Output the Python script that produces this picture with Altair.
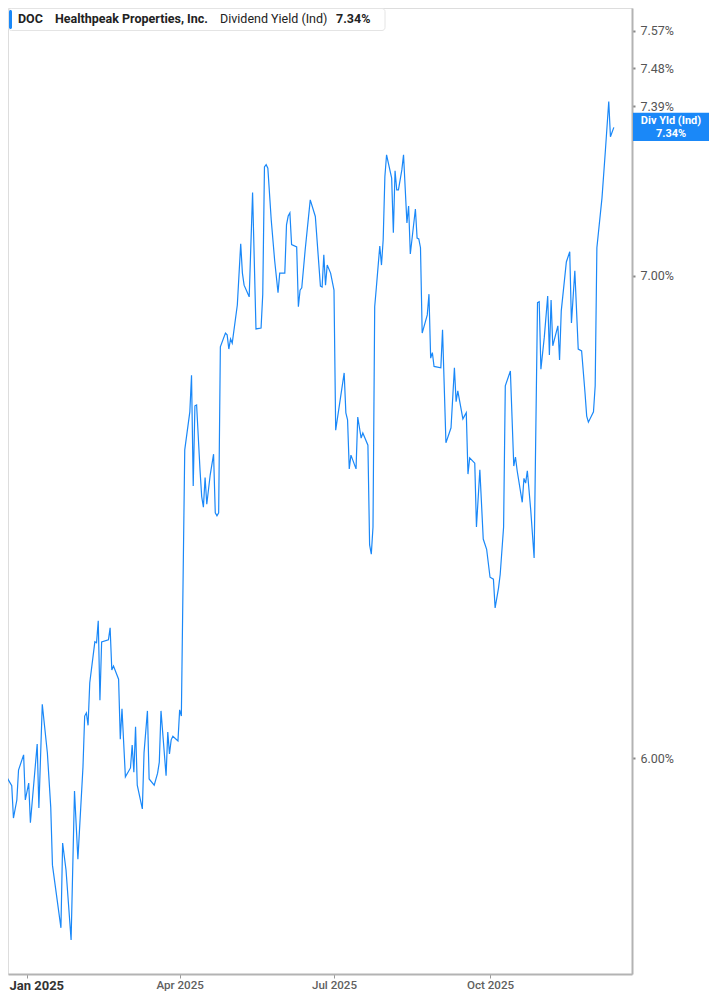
import altair as alt
import pandas as pd

# ---- data ----
dates = [
    "2024-12-16", "2024-12-17", "2024-12-19", "2024-12-20", "2024-12-23", "2024-12-24", "2024-12-26", "2024-12-27", "2024-12-30", "2024-12-31",
    "2025-01-02", "2025-01-03", "2025-01-07", "2025-01-08", "2025-01-10", "2025-01-13", "2025-01-15", "2025-01-16", "2025-01-21", "2025-01-22",
    "2025-01-24", "2025-01-27", "2025-01-29", "2025-01-31", "2025-02-03", "2025-02-04", "2025-02-05", "2025-02-06", "2025-02-07", "2025-02-10",
    "2025-02-11", "2025-02-12", "2025-02-13", "2025-02-14", "2025-02-18", "2025-02-19", "2025-02-20", "2025-02-21", "2025-02-24", "2025-02-25",
    "2025-02-26", "2025-02-28", "2025-03-03", "2025-03-04", "2025-03-05", "2025-03-06", "2025-03-07", "2025-03-10", "2025-03-11", "2025-03-13",
    "2025-03-14", "2025-03-17", "2025-03-19", "2025-03-20", "2025-03-21", "2025-03-24", "2025-03-25", "2025-03-26", "2025-03-27", "2025-03-28",
    "2025-03-31", "2025-04-01", "2025-04-02", "2025-04-04", "2025-04-07", "2025-04-08", "2025-04-09", "2025-04-10", "2025-04-11", "2025-04-13",
    "2025-04-14", "2025-04-15", "2025-04-16", "2025-04-17", "2025-04-19", "2025-04-21", "2025-04-22", "2025-04-23", "2025-04-24", "2025-04-25",
    "2025-04-28", "2025-04-29", "2025-04-30", "2025-05-01", "2025-05-02", "2025-05-05", "2025-05-07", "2025-05-08", "2025-05-09", "2025-05-12",
    "2025-05-14", "2025-05-16", "2025-05-19", "2025-05-20", "2025-05-21", "2025-05-22", "2025-05-23", "2025-05-25", "2025-05-27", "2025-05-29",
    "2025-05-30", "2025-06-02", "2025-06-03", "2025-06-04", "2025-06-05", "2025-06-06", "2025-06-09", "2025-06-10", "2025-06-11", "2025-06-12",
    "2025-06-14", "2025-06-17", "2025-06-20", "2025-06-23", "2025-06-24", "2025-06-25", "2025-06-26", "2025-06-27", "2025-06-29", "2025-07-01",
    "2025-07-02", "2025-07-07", "2025-07-08", "2025-07-09", "2025-07-10", "2025-07-11", "2025-07-14", "2025-07-15", "2025-07-17", "2025-07-18",
    "2025-07-21", "2025-07-22", "2025-07-23", "2025-07-24", "2025-07-25", "2025-07-26", "2025-07-28", "2025-07-29", "2025-07-30", "2025-07-31",
    "2025-08-01", "2025-08-04", "2025-08-05", "2025-08-06", "2025-08-07", "2025-08-08", "2025-08-10", "2025-08-11", "2025-08-13", "2025-08-14",
    "2025-08-15", "2025-08-18", "2025-08-19", "2025-08-20", "2025-08-21", "2025-08-22", "2025-08-25", "2025-08-26", "2025-08-27", "2025-08-28",
    "2025-08-29", "2025-09-02", "2025-09-03", "2025-09-05", "2025-09-08", "2025-09-10", "2025-09-11", "2025-09-12", "2025-09-15", "2025-09-17",
    "2025-09-18", "2025-09-19", "2025-09-22", "2025-09-23", "2025-09-25", "2025-09-27", "2025-09-29", "2025-10-01", "2025-10-03", "2025-10-04",
    "2025-10-06", "2025-10-07", "2025-10-09", "2025-10-10", "2025-10-13", "2025-10-15", "2025-10-16", "2025-10-17", "2025-10-20", "2025-10-21",
    "2025-10-22", "2025-10-23", "2025-10-25", "2025-10-27", "2025-10-29", "2025-10-30", "2025-10-31", "2025-11-02", "2025-11-04", "2025-11-05",
    "2025-11-06", "2025-11-07", "2025-11-10", "2025-11-11", "2025-11-12", "2025-11-15", "2025-11-17", "2025-11-18", "2025-11-20", "2025-11-22",
    "2025-11-24", "2025-11-26", "2025-11-27", "2025-11-28", "2025-12-01", "2025-12-02", "2025-12-03", "2025-12-06", "2025-12-08", "2025-12-10",
    "2025-12-11", "2025-12-13",
]

dividend_yield = [
    5.795, 5.749, 6.073, 5.964, 5.947, 5.886, 5.920, 5.977, 6.006, 5.920,
    5.952, 5.877, 6.027, 5.905, 6.104, 6.010, 5.906, 5.798, 5.683, 5.839,
    5.789, 5.661, 5.937, 5.809, 5.983, 6.081, 6.087, 6.063, 6.146, 6.227,
    6.225, 6.269, 6.112, 6.227, 6.231, 6.255, 6.171, 6.179, 6.153, 6.036,
    6.095, 5.964, 5.981, 6.025, 5.973, 6.060, 5.948, 5.903, 6.010, 6.091,
    5.960, 5.948, 5.971, 5.992, 6.091, 5.966, 6.050, 6.008, 6.035, 6.042,
    6.033, 6.093, 6.081, 6.621, 6.702, 6.781, 6.545, 6.715, 6.717, 6.579,
    6.523, 6.501, 6.563, 6.507, 6.568, 6.612, 6.489, 6.483, 6.489, 6.843,
    6.873, 6.869, 6.838, 6.860, 6.851, 6.935, 7.072, 7.006, 6.979, 6.953,
    7.189, 6.882, 6.884, 6.959, 7.248, 7.253, 7.245, 7.126, 7.035, 6.962,
    7.006, 7.006, 7.115, 7.135, 7.142, 7.070, 7.065, 6.931, 6.968, 6.973,
    7.058, 7.172, 7.134, 6.977, 6.975, 7.047, 6.979, 7.024, 7.006, 6.968,
    6.663, 6.786, 6.700, 6.685, 6.581, 6.610, 6.581, 6.691, 6.646, 6.657,
    6.631, 6.423, 6.404, 6.460, 6.931, 6.975, 7.067, 7.024, 7.081, 7.225,
    7.276, 7.222, 7.097, 7.239, 7.195, 7.195, 7.241, 7.276, 7.119, 7.158,
    7.049, 7.151, 7.085, 7.083, 7.063, 6.873, 6.913, 6.959, 6.818, 6.830,
    6.800, 6.797, 6.880, 6.636, 6.668, 6.797, 6.724, 6.747, 6.687, 6.700,
    6.570, 6.604, 6.593, 6.460, 6.579, 6.435, 6.414, 6.357, 6.353, 6.295,
    6.335, 6.363, 6.460, 6.758, 6.790, 6.587, 6.606, 6.577, 6.511, 6.561,
    6.551, 6.577, 6.495, 6.396, 6.940, 6.942, 6.794, 6.864, 6.955, 6.825,
    6.946, 6.845, 6.889, 6.814, 6.922, 7.031, 7.054, 6.895, 7.011, 6.838,
    6.834, 6.743, 6.693, 6.680, 6.702, 6.758, 7.063, 7.176, 7.285, 7.401,
    7.318, 7.34,
]

y_tick_values = [6.00, 7.00, 7.39, 7.48, 7.57]
x_tick_months = [1, 4, 7, 10]

legend_ticker = ["DOC"]
legend_company = ["Healthpeak Properties, Inc."]
legend_metric = ["Dividend Yield (Ind)"]
legend_last = ["7.34%"]
tag_title = ["Div Yld (Ind)"]
tag_value = ["7.34%"]

# ---- styling ----
BLUE = "#1a88f8"
FONT = "Roboto"
W, H = 624, 966
RIGHT_PAD = 77

df = pd.DataFrame({"date": pd.to_datetime(dates), "value": dividend_yield})

x_scale = alt.Scale(
    domain=[
        alt.DateTime(year=2024, month=12, date=20, hours=19),
        alt.DateTime(year=2025, month=12, date=23, hours=17),
    ],
    nice=False,
)
y_scale = alt.Scale(type="log", domain=[5.5997, 7.6256], nice=False)

is_jan = "month(datum.value) == 0"
x_axis = alt.Axis(
    values=[alt.DateTime(year=2025, month=m, date=1) for m in x_tick_months],
    labelExpr="timeFormat(datum.value, '%b %Y')",
    title=None,
    grid=False,
    domainColor="#b3b3b3",
    domainWidth=2,
    tickColor="#999999",
    tickSize=4,
    tickWidth=1,
    labelFont=FONT,
    labelPadding=1.5,
    labelFlush=25,
    labelFlushOffset=18,
    labelFontWeight={"condition": {"test": is_jan, "value": "bold"}, "value": 500},
    labelFontSize={"condition": {"test": is_jan, "value": 13}, "value": 11.6},
    labelColor={"condition": {"test": is_jan, "value": "#333333"}, "value": "#606060"},
)

y_axis = alt.Axis(
    orient="right",
    values=y_tick_values,
    labelExpr="format(datum.value, '.2f') + '%'",
    title=None,
    grid=False,
    domainColor="#b3b3b3",
    domainWidth=2,
    tickColor="#888888",
    tickSize=3,
    tickWidth=2,
    labelColor="#555555",
    labelFont=FONT,
    labelFontSize=12.5,
    labelPadding=5,
    labelBaseline="middle",
)

line = alt.Chart(df).mark_line(color=BLUE, strokeWidth=1.2, clip=True).encode(
    x=alt.X("date:T", scale=x_scale, axis=x_axis),
    y=alt.Y("value:Q", scale=y_scale, axis=y_axis),
)


def one(texts):
    return alt.Chart(pd.DataFrame({"t": texts}))


# value tag on the right axis
TAG_X = W + 1 + (RIGHT_PAD - 1) / 2
tag_box = one(tag_value).mark_rect(color=BLUE).encode(
    x=alt.value(W + 1), x2=alt.value(W + RIGHT_PAD), y=alt.value(104.7), y2=alt.value(133)
)
tag_t1 = one(tag_title).mark_text(
    font=FONT, fontSize=11, fontWeight="bold", color="white", align="center", baseline="middle"
).encode(x=alt.value(TAG_X), y=alt.value(112.8), text="t:N")
tag_t2 = one(tag_value).mark_text(
    font=FONT, fontSize=11, fontWeight="bold", color="white", align="center", baseline="middle"
).encode(x=alt.value(TAG_X), y=alt.value(125.6), text="t:N")

# legend box at top-left
leg_box = one(legend_ticker).mark_rect(
    fill="white", stroke="#e4e4e4", strokeWidth=1, cornerRadius=3
).encode(x=alt.value(0.5), x2=alt.value(377), y=alt.value(0.5), y2=alt.value(22.5))
leg_bar = one(legend_ticker).mark_rect(color=BLUE, cornerRadius=1.5).encode(
    x=alt.value(1), x2=alt.value(4), y=alt.value(2), y2=alt.value(21)
)


def leg_text(texts, xpos, weight):
    return one(texts).mark_text(
        font=FONT, fontSize=12.5, fontWeight=weight, color="#222222", align="left", baseline="middle"
    ).encode(x=alt.value(xpos), y=alt.value(11), text="t:N")


legend = (
    leg_box
    + leg_bar
    + leg_text(legend_ticker, 10, "bold")
    + leg_text(legend_company, 47, "bold")
    + leg_text(legend_metric, 212, "normal")
    + leg_text(legend_last, 328, "bold")
)

chart = (
    alt.layer(line, tag_box, tag_t1, tag_t2, legend)
    .properties(
        width=W,
        height=H,
        autosize=alt.AutoSizeParams(type="none"),
        padding={"left": 0, "top": 0, "right": RIGHT_PAD, "bottom": 18},
    )
    .configure_view(stroke=None)
    .configure(font=FONT)
)

chart.save("out.html", embed_options={"renderer": "svg", "actions": False})
